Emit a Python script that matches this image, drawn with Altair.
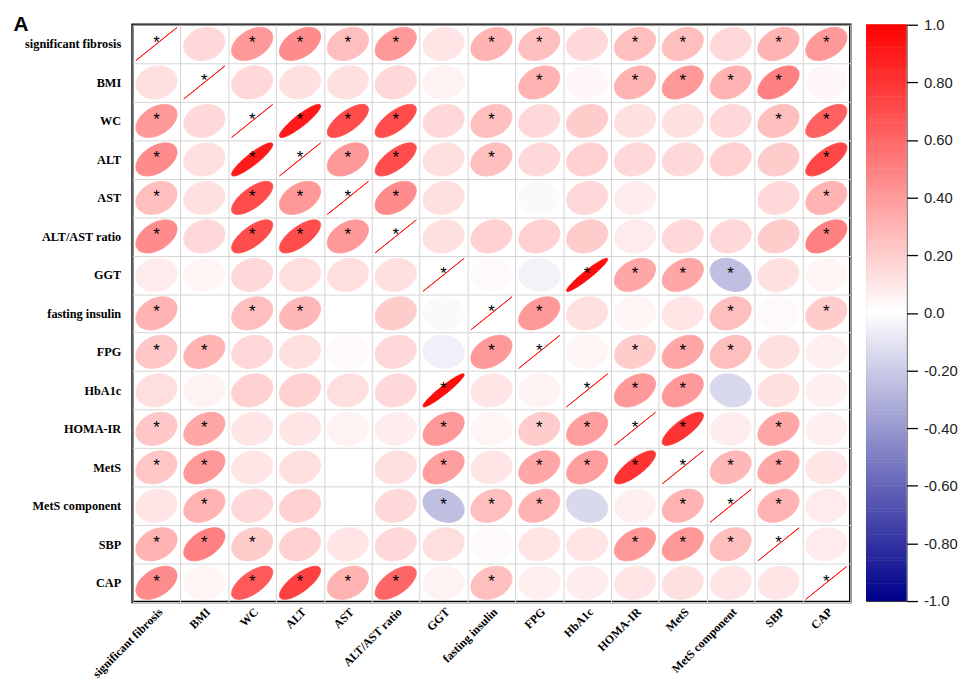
import math
import numpy as np
import pandas as pd
import altair as alt

variables = ["significant fibrosis", "BMI", "WC", "ALT", "AST", "ALT/AST ratio", "GGT",
             "fasting insulin", "FPG", "HbA1c", "HOMA-IR", "MetS", "MetS component", "SBP", "CAP"]

corr_rows = [
    [1.00, 0.15, 0.40, 0.45, 0.25, 0.40, 0.10, 0.30, 0.25, 0.15, 0.25, 0.25, 0.15, 0.30, 0.40],
    [0.12, 1.00, 0.15, 0.12, 0.12, 0.15, 0.05, 0.00, 0.30, 0.03, 0.30, 0.40, 0.30, 0.50, 0.03],
    [0.40, 0.15, 1.00, 0.90, 0.70, 0.70, 0.15, 0.25, 0.15, 0.20, 0.12, 0.12, 0.15, 0.25, 0.62],
    [0.45, 0.12, 0.90, 1.00, 0.40, 0.70, 0.12, 0.25, 0.15, 0.18, 0.15, 0.15, 0.18, 0.20, 0.72],
    [0.25, 0.12, 0.70, 0.40, 1.00, 0.45, 0.12, 0.00, -0.02, 0.15, 0.07, 0.00, 0.00, 0.15, 0.30],
    [0.45, 0.15, 0.70, 0.70, 0.40, 1.00, 0.12, 0.18, 0.18, 0.20, 0.08, 0.15, 0.15, 0.20, 0.50],
    [0.08, 0.04, 0.15, 0.13, 0.13, 0.12, 1.00, 0.02, -0.05, 0.95, 0.35, 0.35, -0.25, 0.12, 0.04],
    [0.30, 0.00, 0.25, 0.28, 0.00, 0.20, -0.02, 1.00, 0.40, 0.12, 0.04, 0.10, 0.25, 0.02, 0.20],
    [0.22, 0.30, 0.15, 0.12, 0.02, 0.15, -0.06, 0.40, 1.00, 0.04, 0.20, 0.35, 0.25, 0.12, 0.06],
    [0.13, 0.05, 0.18, 0.18, 0.13, 0.15, 0.95, 0.10, 0.05, 1.00, 0.40, 0.40, -0.15, 0.12, 0.06],
    [0.22, 0.35, 0.10, 0.10, 0.05, 0.07, 0.40, 0.04, 0.20, 0.38, 1.00, 0.80, 0.07, 0.35, 0.06],
    [0.22, 0.40, 0.10, 0.12, 0.00, 0.12, 0.38, 0.10, 0.35, 0.38, 0.80, 1.00, 0.28, 0.35, 0.10],
    [0.10, 0.30, 0.15, 0.18, 0.00, 0.15, -0.25, 0.25, 0.30, -0.15, 0.06, 0.30, 1.00, 0.30, 0.08],
    [0.30, 0.50, 0.20, 0.18, 0.10, 0.15, 0.13, 0.02, 0.10, 0.10, 0.40, 0.40, 0.25, 1.00, 0.08],
    [0.45, 0.04, 0.65, 0.75, 0.30, 0.60, 0.05, 0.25, 0.06, 0.07, 0.10, 0.12, 0.10, 0.10, 1.00],
]

star_rows = [
    [1, 0, 1, 1, 1, 1, 0, 1, 1, 0, 1, 1, 0, 1, 1],
    [0, 1, 0, 0, 0, 0, 0, 0, 1, 0, 1, 1, 1, 1, 0],
    [1, 0, 1, 1, 1, 1, 0, 1, 0, 0, 0, 0, 0, 1, 1],
    [1, 0, 1, 1, 1, 1, 0, 1, 0, 0, 0, 0, 0, 0, 1],
    [1, 0, 1, 1, 1, 1, 0, 0, 0, 0, 0, 0, 0, 0, 1],
    [1, 0, 1, 1, 1, 1, 0, 0, 0, 0, 0, 0, 0, 0, 1],
    [0, 0, 0, 0, 0, 0, 1, 0, 0, 1, 1, 1, 1, 0, 0],
    [1, 0, 1, 1, 0, 0, 0, 1, 1, 0, 0, 0, 1, 0, 1],
    [1, 1, 0, 0, 0, 0, 0, 1, 1, 0, 1, 1, 1, 0, 0],
    [0, 0, 0, 0, 0, 0, 1, 0, 0, 1, 1, 1, 0, 0, 0],
    [1, 1, 0, 0, 0, 0, 1, 0, 1, 1, 1, 1, 0, 1, 0],
    [1, 1, 0, 0, 0, 0, 1, 0, 1, 1, 1, 1, 1, 1, 0],
    [0, 1, 0, 0, 0, 0, 1, 1, 1, 0, 0, 1, 1, 1, 0],
    [1, 1, 1, 0, 0, 0, 0, 0, 0, 0, 1, 1, 1, 1, 0],
    [1, 0, 1, 1, 1, 1, 0, 1, 0, 0, 0, 0, 0, 0, 1],
]

legend_ticks = [1.0, 0.8, 0.6, 0.4, 0.2, 0.0, -0.2, -0.4, -0.6, -0.8, -1.0]

PLOT_W = 726
PLOT_H = 584
CELL_W = PLOT_W / len(variables)
CELL_H = PLOT_H / len(variables)
ASPECT = CELL_H / CELL_W
FILL_FRAC = 0.86


def ellipse_path(r, n=72):
    d = math.acos(max(-1.0, min(1.0, r)))
    pts = []
    for k in range(n):
        t = 2 * math.pi * k / n
        x = math.cos(t + d / 2)
        y = -math.cos(t - d / 2) * ASPECT
        pts.append(f"{x:.4f},{y:.4f}")
    return "M" + " L".join(pts) + " Z"


records = []
for i, rname in enumerate(variables):
    for j, cname in enumerate(variables):
        r = corr_rows[i][j]
        records.append({"row": rname, "col": cname, "r": r,
                        "star": "*" if star_rows[i][j] else "",
                        "path": ellipse_path(r)})
df = pd.DataFrame(records)

cscale = alt.Scale(domain=[-1, 0, 1], range=["#00008B", "#FFFFFF", "#FF0000"], interpolate="rgb")

label_font = "Liberation Serif"

x_enc = alt.X("col:N", sort=variables, title=None,
              scale=alt.Scale(type="band", paddingInner=0, paddingOuter=0),
              axis=alt.Axis(labelAngle=-45, labelFont=label_font, labelFontWeight="bold",
                            labelFontSize=12, labelColor="black", ticks=False, domain=False,
                            labelPadding=4, grid=True, gridColor="#d4d4d4", gridWidth=1,
                            tickBand="extent"))
y_enc = alt.Y("row:N", sort=variables, title="A",
              scale=alt.Scale(type="band", paddingInner=0, paddingOuter=0),
              axis=alt.Axis(labelFont=label_font, labelFontWeight="bold", labelFontSize=12.4,
                            labelColor="black", ticks=False, domain=False, labelPadding=12,
                            grid=True, gridColor="#d4d4d4", gridWidth=1, tickBand="extent",
                            titleAngle=0, titleX=-121, titleY=6, titleAlign="left",
                            titleBaseline="alphabetic", titleFont="Liberation Sans",
                            titleFontSize=21, titleFontWeight="bold", titleColor="black"))

size_px = (FILL_FRAC * CELL_W) ** 2

ellipses = alt.Chart(df).mark_point(opacity=1, fillOpacity=1, strokeWidth=0.9,
                                    size=size_px).encode(
    x=x_enc, y=y_enc,
    shape=alt.Shape("path:N", scale=None, legend=None),
    fill=alt.Fill("r:Q", scale=cscale, legend=None),
    stroke=alt.Stroke("r:Q", scale=cscale, legend=None),
)

stars = alt.Chart(df).transform_filter("datum.star != ''").mark_text(
    font="Liberation Sans", fontSize=17, color="black", baseline="middle", dy=-1
).encode(x=x_enc, y=y_enc, text="star:N")

matrix = alt.layer(ellipses, stars).properties(
    width=PLOT_W, height=PLOT_H,
    view=alt.ViewBackground(stroke="black", strokeWidth=2.5)
)

grad_vals = np.round(np.arange(-1.0, 1.0, 0.01), 2)
df_bar = pd.DataFrame({"v": grad_vals, "v2": grad_vals + 0.012})

bar = alt.Chart(df_bar).mark_rect().encode(
    y=alt.Y("v:Q", title=None,
            scale=alt.Scale(domain=[-1, 1], nice=False, zero=False),
            axis=alt.Axis(orient="right", values=legend_ticks, domain=False, grid=False,
                          tickSize=11, tickColor="black", tickWidth=1.3,
                          labelFont="Liberation Sans", labelFontSize=15, labelColor="#222",
                          labelPadding=6,
                          labelExpr="replace(abs(datum.value) > 0.999 || abs(datum.value) < 0.001 ? format(datum.value, '.1f') : format(datum.value, '.2f'), '\u2212', '-')")),
    y2="v2:Q",
    fill=alt.Fill("v:Q", scale=cscale, legend=None),
).properties(width=41, height=583,
             view=alt.ViewBackground(stroke="#333333", strokeWidth=1))

chart = alt.hconcat(matrix, bar, spacing=13).properties(
    padding={"left": 3, "top": 0, "right": 0, "bottom": 0},
    background="white"
).resolve_scale(fill="independent")

chart.save("out.html", embed_options={"renderer": "svg", "actions": False})
